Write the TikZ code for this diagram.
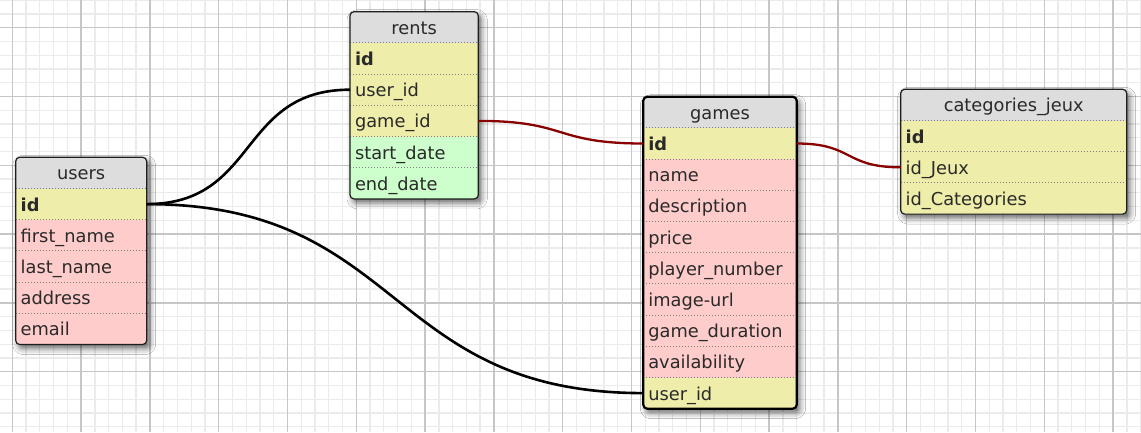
\documentclass[tikz,border=0pt]{standalone}
\usepackage{fontspec}
\setmainfont{DejaVu Sans}
\usetikzlibrary{shadows.blur}
\definecolor{hdrc}{HTML}{DDDDDD}
\definecolor{keyc}{HTML}{EEEEAA}
\definecolor{fldc}{HTML}{FFCCCC}
\definecolor{datc}{HTML}{CCFFCC}
\definecolor{txtc}{HTML}{2A2A2A}
\definecolor{relred}{HTML}{880000}
\definecolor{minorc}{HTML}{EBEBEB}
\definecolor{majorc}{HTML}{C6C6C6}
\definecolor{sepc}{HTML}{808080}
\definecolor{framec}{HTML}{1E1E1E}
\tikzset{
  minorgrid/.style={draw=minorc, line width=1.3pt},
  majorgrid/.style={draw=majorc, line width=1.3pt},
  tframe/.style={rectangle, fill=hdrc, rounded corners=4pt, inner sep=0pt, outer sep=0pt,
    blur shadow={shadow xshift=3pt, shadow yshift=-4pt, shadow blur radius=6pt, shadow opacity=60}},
  tborder/.style={draw=framec, line width=1.2pt, rounded corners=4pt},
  selborder/.style={draw=black, line width=2.2pt, rounded corners=4pt},
  cell/.style={rectangle, inner xsep=5pt, inner ysep=0pt, outer sep=0pt, minimum height=31.2pt,
    text height=17pt, text depth=3pt, font=\fontsize{17.8}{20}\selectfont, text=txtc},
  hdrrow/.style={cell, fill=hdrc, align=center},
  keyrow/.style={cell, fill=keyc, align=left},
  fldrow/.style={cell, fill=fldc, align=left},
  datrow/.style={cell, fill=datc, align=left},
  sep/.style={draw=sepc, line width=0.9pt, dash pattern=on 1pt off 2pt},
  rel/.style={draw=black, line width=2.6pt},
  relr/.style={draw=relred, line width=2.3pt},
}
% #1 name, #2 x, #3 top y, #4 width, #5 rows, #6 title, #7 row list, #8 border style
\newcommand{\ertable}[8]{%
  \node[tframe, minimum width=#4pt, minimum height={(#5+1)*31.2pt}, anchor=north west] (#1) at (#2,#3) {};
  \pgfmathsetmacro{\ertw}{#4-10}%
  \begin{scope}
    \clip[rounded corners=4pt] (#1.north west) rectangle (#1.south east);
    \node[hdrrow, text width=\ertw pt, anchor=north west] (#1-title) at (#2,#3) {#6};
    \foreach \nm/\lab/\kind [count=\i] in {#7} {
      \node[\kind, text width=\ertw pt, anchor=north west] (#1-\nm) at (#2,{#3+31.2*\i}) {\lab};
      \draw[sep] (#1-\nm.north west) -- (#1-\nm.north east);
    }
  \end{scope}
  \draw[#8] (#1.north west) rectangle (#1.south east);
}
\begin{document}
\begin{tikzpicture}[x=1pt,y=-1pt]
\useasboundingbox (0,0) rectangle (1141,432);
\fill[white] (0,0) rectangle (1141,432);
% grid
\foreach \k in {0,...,83} \draw[minorgrid] ({-1.46+13.76*\k},0) -- ++(0,432);
\foreach \k in {0,...,31} \draw[minorgrid] (0,{0.18+13.76*\k}) -- ++(1141,0);
\foreach \k in {0,...,16} \draw[majorgrid] ({12.3+68.8*\k},0) -- ++(0,432);
\foreach \k in {0,...,5} \draw[majorgrid] (0,{27.7+68.8*\k}) -- ++(1141,0);

% tables
\ertable{users}{15.7}{157.3}{131}{5}{users}{id/\textbf{id}/keyrow, first/first\_name/fldrow, last/last\_name/fldrow, address/address/fldrow, email/email/fldrow}{tborder}
\ertable{rents}{350}{11.7}{128.3}{5}{rents}{id/\textbf{id}/keyrow, userid/user\_id/keyrow, gameid/game\_id/keyrow, start/start\_date/datrow, end/end\_date/datrow}{tborder}
\ertable{games}{643.3}{96.7}{153.4}{9}{games}{id/\textbf{id}/keyrow, name/name/fldrow, desc/description/fldrow, price/price/fldrow, player/player\_number/fldrow, image/image-url/fldrow, duration/game\_duration/fldrow, avail/availability/fldrow, userid/user\_id/keyrow}{selborder}
\ertable{cats}{900.7}{89.3}{226}{3}{categories\_jeux}{id/\textbf{id}/keyrow, jeux/id\_Jeux/keyrow, cat/id\_Categories/keyrow}{tborder}

% relations
\draw[rel] (users-id.east) .. controls +(112,0) and +(-112,0) .. (rents-userid.west);
\draw[rel] (users-id.east) .. controls +(258,0) and +(-258,0) .. (games-userid.west);
\draw[relr] (rents-gameid.east) .. controls +(90,0) and +(-90,0) .. (games-id.west);
\draw[relr] (games-id.east) .. controls +(57,0) and +(-57,0) .. (cats-jeux.west);
\end{tikzpicture}
\end{document}
